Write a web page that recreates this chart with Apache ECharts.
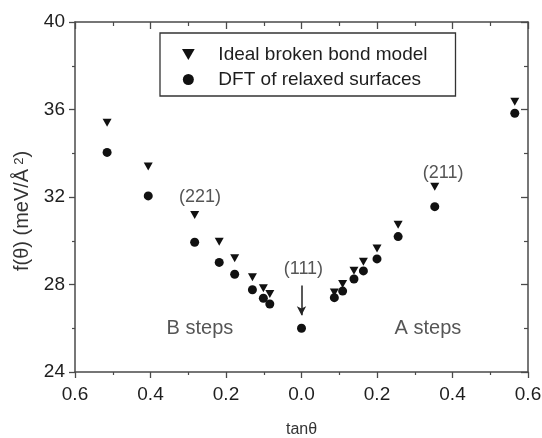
<!DOCTYPE html>
<html>
<head>
<meta charset="utf-8">
<script src="https://cdn.jsdelivr.net/npm/echarts@6/dist/echarts.min.js"></script>
<style>html,body{margin:0;padding:0;background:#fff;}#c{width:542px;height:438px;}</style>
</head>
<body>
<div id="c"></div>
<script>
// ---- data ----
const seriesNames = ['Ideal broken bond model', 'DFT of relaxed surfaces'];
const xTickLabels = ['0.6', '0.4', '0.2', '0.0', '0.2', '0.4', '0.6'];
// B steps (plotted to the left of 0)
const tanB   = [0.515, 0.406, 0.283, 0.218, 0.177, 0.130, 0.101, 0.084];
const idealB = [35.40, 33.39, 31.18, 29.96, 29.20, 28.33, 27.83, 27.57];
const dftB   = [34.04, 32.05, 29.93, 29.01, 28.47, 27.76, 27.37, 27.11];
// (111)
const tan111 = 0.0;
const dft111 = 26.0;
// A steps (plotted to the right of 0)
const tanA   = [0.087, 0.109, 0.139, 0.164, 0.200, 0.256, 0.353, 0.565];
const idealA = [27.64, 28.02, 28.63, 29.04, 29.65, 30.73, 32.47, 36.36];
const dftA   = [27.40, 27.70, 28.25, 28.62, 29.17, 30.19, 31.56, 35.83];
// annotations
const noteTexts = ['(221)', '(111)', '(211)', 'B steps', 'A steps'];
const noteX     = [-0.269, 0.005, 0.375, -0.269, 0.335];
const noteY     = [32.0, 28.72, 33.08, 25.97, 26.0];
const arrowFrom = [0, 27.95];
const arrowTo   = [0, 26.6];

// ---- build ----
const FONT = '"Liberation Sans", Arial, sans-serif';
const TXT = '#1e1e1e';
const AX = '#4a4a4a';

const idealData = tanB.map((t, i) => [-t, idealB[i]]).concat(tanA.map((t, i) => [t, idealA[i]]));
const dftData = tanB.map((t, i) => [-t, dftB[i]]).concat([[tan111, dft111]]).concat(tanA.map((t, i) => [t, dftA[i]]));
const noteData = noteTexts.map((s, i) => ({
  value: [noteX[i], noteY[i]],
  label: { fontSize: i >= 3 ? 20 : 18 }
}));

const triPath = 'path://M0,0L10,0L5,8.66Z';

const xCommon = { type: 'value', min: -0.6, max: 0.6, interval: 0.2, gridIndex: 0 };
const yCommon = { type: 'value', min: 24, max: 40, interval: 4, gridIndex: 0 };

const option = {
  animation: false,
  backgroundColor: '#fff',
  textStyle: { fontFamily: FONT },
  grid: { left: 75, right: 14, top: 22, bottom: 66, containLabel: false, outerBoundsMode: 'none' },
  legend: {
    orient: 'vertical',
    left: 160,
    top: 33,
    data: seriesNames,
    itemWidth: 50,
    itemHeight: 11,
    itemGap: 6,
    padding: [12, 28, 7, 22],
    borderColor: '#333',
    borderWidth: 1.3,
    textStyle: { fontSize: 19, color: TXT, fontFamily: FONT }
  },
  xAxis: [
    Object.assign({}, xCommon, {
      position: 'bottom',
      name: 'tanθ',
      nameLocation: 'middle',
      nameGap: 50,
      nameTextStyle: { fontSize: 16, color: '#333', fontFamily: FONT },
      axisLine: { onZero: false, lineStyle: { color: AX, width: 1.5 } },
      axisTick: { inside: false, length: 6, lineStyle: { color: AX, width: 1.3 } },
      minorTick: { show: true, splitNumber: 2, length: 3, lineStyle: { color: AX, width: 1.2 } },
      splitLine: { show: false },
      axisLabel: {
        margin: 13, fontSize: 19, color: TXT, fontFamily: FONT,
        formatter: (v, idx) => xTickLabels[idx] !== undefined ? xTickLabels[idx] : Math.abs(v).toFixed(1)
      }
    }),
    Object.assign({}, xCommon, {
      position: 'top',
      axisLine: { onZero: false, lineStyle: { color: AX, width: 1.5 } },
      axisTick: { inside: true, length: 7, lineStyle: { color: AX, width: 1.3 } },
      minorTick: { show: true, splitNumber: 2, length: 4, lineStyle: { color: AX, width: 1.2 } },
      splitLine: { show: false },
      axisLabel: { show: false }
    })
  ],
  yAxis: [
    Object.assign({}, yCommon, {
      position: 'left',
      name: 'f(θ) (meV/Å{sup|2})',
      nameLocation: 'middle',
      nameGap: 37,
      nameRotate: 90,
      nameTextStyle: {
        fontSize: 20, color: '#333', fontFamily: FONT, padding: [0, 28, 0, 0],
        rich: { sup: { fontSize: 13, color: '#333', fontFamily: FONT, verticalAlign: 'top', padding: [0, 0, 8, 4] } }
      },
      axisLine: { onZero: false, lineStyle: { color: AX, width: 1.5 } },
      axisTick: { inside: false, length: 6, lineStyle: { color: AX, width: 1.3 } },
      minorTick: { show: true, splitNumber: 2, length: 3, lineStyle: { color: AX, width: 1.2 } },
      splitLine: { show: false },
      axisLabel: { margin: 10, fontSize: 19, color: TXT, fontFamily: FONT }
    }),
    Object.assign({}, yCommon, {
      position: 'right',
      axisLine: { onZero: false, lineStyle: { color: AX, width: 1.5 } },
      axisTick: { inside: true, length: 7, lineStyle: { color: AX, width: 1.3 } },
      minorTick: { show: true, splitNumber: 2, length: 4, lineStyle: { color: AX, width: 1.2 } },
      splitLine: { show: false },
      axisLabel: { show: false }
    })
  ],
  series: [
    {
      name: seriesNames[0],
      type: 'scatter',
      xAxisIndex: 0, yAxisIndex: 0,
      symbol: triPath,
      symbolSize: [9, 8],
      itemStyle: { color: '#111', opacity: 1 },
      data: idealData,
      z: 3
    },
    {
      name: seriesNames[1],
      type: 'scatter',
      xAxisIndex: 0, yAxisIndex: 0,
      symbol: 'circle',
      symbolSize: 9,
      itemStyle: { color: '#111', opacity: 1 },
      data: dftData,
      z: 4
    },
    {
      name: 'notes',
      type: 'scatter',
      xAxisIndex: 0, yAxisIndex: 0,
      symbol: 'circle',
      symbolSize: 1,
      silent: true,
      itemStyle: { color: 'rgba(0,0,0,0)' },
      label: {
        show: true,
        position: 'inside',
        color: '#2a2a2a',
        fontFamily: FONT,
        formatter: (p) => noteTexts[p.dataIndex]
      },
      data: noteData,
      markLine: {
        silent: true,
        symbol: ['none', 'arrow'],
        symbolSize: [7, 9],
        label: { show: false },
        lineStyle: { color: '#222', width: 1.5, type: 'solid' },
        data: [[{ coord: arrowFrom }, { coord: arrowTo }]]
      },
      z: 5
    }
  ]
};

const chart = echarts.init(document.getElementById('c'), null, { renderer: 'canvas' });
chart.setOption(option);
</script>
</body>
</html>
